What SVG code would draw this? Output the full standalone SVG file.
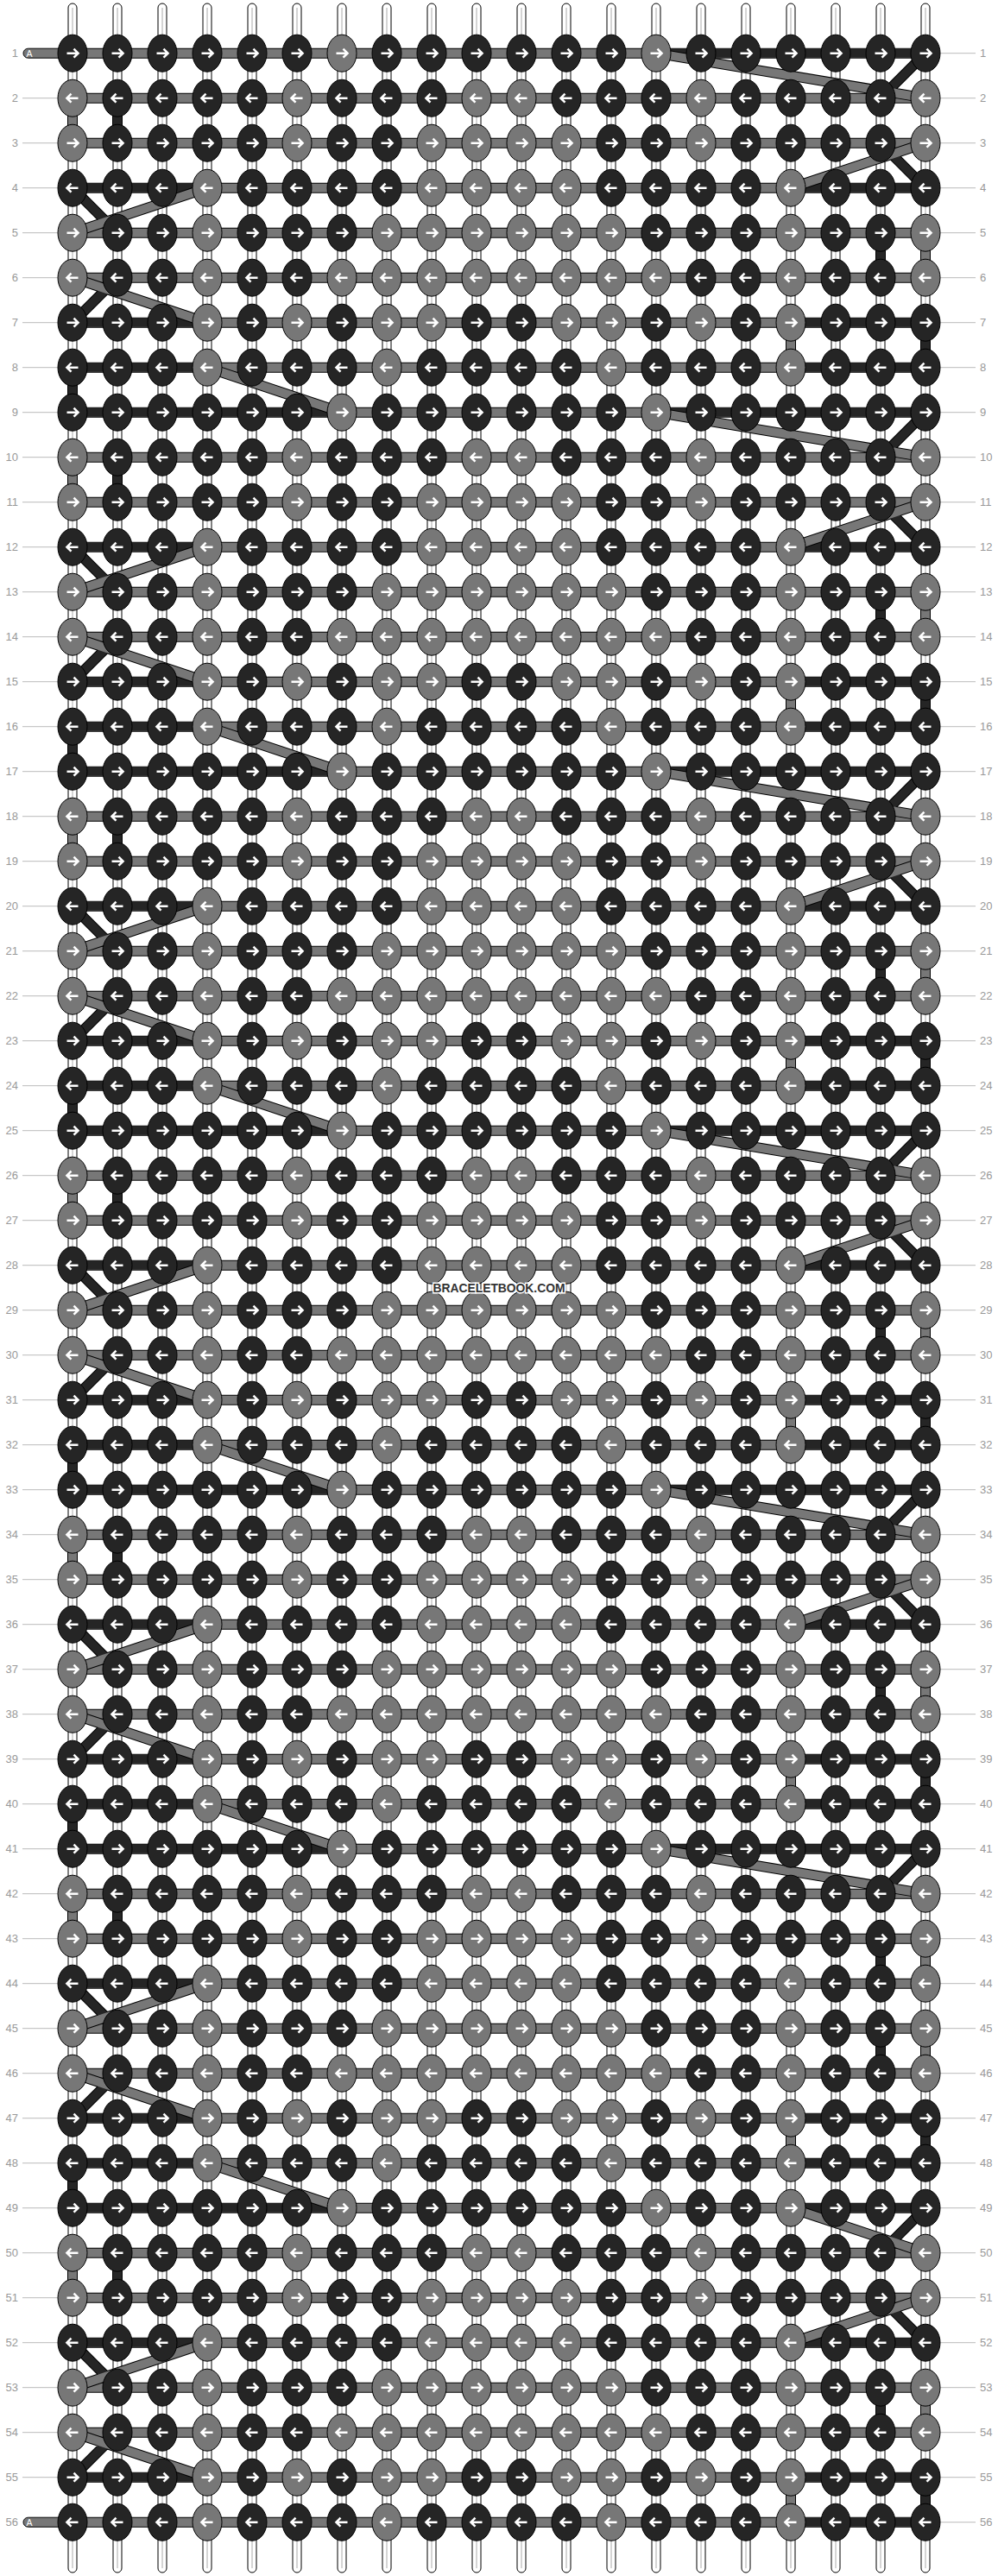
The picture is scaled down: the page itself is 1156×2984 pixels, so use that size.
<svg xmlns="http://www.w3.org/2000/svg" width="1156" height="2984" viewBox="0 0 1156 2984">
<style>
.vs{fill:#fff;stroke:#000;stroke-width:1}
.vi{stroke:#aaa;stroke-width:1;fill:none}
.o{fill:none;stroke:#000;stroke-width:12}
.cg{fill:none;stroke:#777;stroke-width:10}
.cd{fill:none;stroke:#252525;stroke-width:10}
.g{fill:#777}
.lb{font-family:"Liberation Sans",Arial,sans-serif;font-size:13px;fill:#999}
.ln{stroke:#bbb;stroke-width:1;fill:none}
.stub{fill:#777;stroke:#000;stroke-width:1}
.a{font-family:"Liberation Sans",Arial,sans-serif;font-size:10.5px;fill:#fff}
</style>
<defs>
<g id="R"><ellipse rx="17" ry="21.5" stroke="#000" stroke-width="1"/><path d="M-6.5 0H6M1.5-5L6.5 0L1.5 5" fill="none" stroke="#fff" stroke-width="2.6"/></g>
<g id="L"><ellipse rx="17" ry="21.5" stroke="#000" stroke-width="1"/><path d="M6.5 0H-6M-1.5-5L-6.5 0L-1.5 5" fill="none" stroke="#fff" stroke-width="2.6"/></g>
</defs>
<rect width="1156" height="2984" fill="#fff"/>
<g id="connectors">
<g id="strings">
<rect class="vs" x="79" y="4" width="10" height="2976" rx="5"/><rect class="vs" x="131" y="4" width="10" height="2976" rx="5"/><rect class="vs" x="183" y="4" width="10" height="2976" rx="5"/><rect class="vs" x="235" y="4" width="10" height="2976" rx="5"/><rect class="vs" x="287" y="4" width="10" height="2976" rx="5"/><rect class="vs" x="339" y="4" width="10" height="2976" rx="5"/><rect class="vs" x="391" y="4" width="10" height="2976" rx="5"/><rect class="vs" x="443" y="4" width="10" height="2976" rx="5"/><rect class="vs" x="495" y="4" width="10" height="2976" rx="5"/><rect class="vs" x="547" y="4" width="10" height="2976" rx="5"/><rect class="vs" x="599" y="4" width="10" height="2976" rx="5"/><rect class="vs" x="651" y="4" width="10" height="2976" rx="5"/><rect class="vs" x="703" y="4" width="10" height="2976" rx="5"/><rect class="vs" x="755" y="4" width="10" height="2976" rx="5"/><rect class="vs" x="807" y="4" width="10" height="2976" rx="5"/><rect class="vs" x="859" y="4" width="10" height="2976" rx="5"/><rect class="vs" x="911" y="4" width="10" height="2976" rx="5"/><rect class="vs" x="963" y="4" width="10" height="2976" rx="5"/><rect class="vs" x="1015" y="4" width="10" height="2976" rx="5"/><rect class="vs" x="1067" y="4" width="10" height="2976" rx="5"/>
<path class="vi" d="M84 9V2975M136 9V2975M188 9V2975M240 9V2975M292 9V2975M344 9V2975M396 9V2975M448 9V2975M500 9V2975M552 9V2975M604 9V2975M656 9V2975M708 9V2975M760 9V2975M812 9V2975M864 9V2975M916 9V2975M968 9V2975M1020 9V2975M1072 9V2975"/>
</g>
<g id="rowlinks">
<path class="o" d="M84 61.7H1072M84 113.7H1072M84 165.7H1072M84 217.7H1072M84 269.7H1072M84 321.7H1072M84 373.7H1072M84 425.7H1072M84 477.7H1072M84 529.7H1072M84 581.7H1072M84 633.7H1072M84 685.7H1072M84 737.7H1072M84 789.7H1072M84 841.7H1072M84 893.7H1072M84 945.7H1072M84 997.7H1072M84 1049.7H1072M84 1101.7H1072M84 1153.7H1072M84 1205.7H1072M84 1257.7H1072M84 1309.7H1072M84 1361.7H1072M84 1413.7H1072M84 1465.7H1072M84 1517.7H1072M84 1569.7H1072M84 1621.7H1072M84 1673.7H1072M84 1725.7H1072M84 1777.7H1072M84 1829.7H1072M84 1881.7H1072M84 1933.7H1072M84 1985.7H1072M84 2037.7H1072M84 2089.7H1072M84 2141.7H1072M84 2193.7H1072M84 2245.7H1072M84 2297.7H1072M84 2349.7H1072M84 2401.7H1072M84 2453.7H1072M84 2505.7H1072M84 2557.7H1072M84 2609.7H1072M84 2661.7H1072M84 2713.7H1072M84 2765.7H1072M84 2817.7H1072M84 2869.7H1072M84 2921.7H1072"/>
<path class="cg" d="M84 61.7H1072M84 113.7H1072M84 165.7H1072M84 217.7H1072M84 269.7H1072M84 321.7H1072M84 373.7H1072M84 425.7H1072M84 477.7H1072M84 529.7H1072M84 581.7H1072M84 633.7H1072M84 685.7H1072M84 737.7H1072M84 789.7H1072M84 841.7H1072M84 893.7H1072M84 945.7H1072M84 997.7H1072M84 1049.7H1072M84 1101.7H1072M84 1153.7H1072M84 1205.7H1072M84 1257.7H1072M84 1309.7H1072M84 1361.7H1072M84 1413.7H1072M84 1465.7H1072M84 1517.7H1072M84 1569.7H1072M84 1621.7H1072M84 1673.7H1072M84 1725.7H1072M84 1777.7H1072M84 1829.7H1072M84 1881.7H1072M84 1933.7H1072M84 1985.7H1072M84 2037.7H1072M84 2089.7H1072M84 2141.7H1072M84 2193.7H1072M84 2245.7H1072M84 2297.7H1072M84 2349.7H1072M84 2401.7H1072M84 2453.7H1072M84 2505.7H1072M84 2557.7H1072M84 2609.7H1072M84 2661.7H1072M84 2713.7H1072M84 2765.7H1072M84 2817.7H1072M84 2869.7H1072M84 2921.7H1072"/>
<path class="cd" d="M760 61.7H1072M84 217.7H240M916 217.7H1072M84 373.7H240M916 373.7H1072M84 425.7H240M916 425.7H1072M84 477.7H396M760 477.7H1072M84 633.7H240M916 633.7H1072M84 789.7H240M916 789.7H1072M84 841.7H240M916 841.7H1072M84 893.7H396M760 893.7H1072M84 1049.7H240M916 1049.7H1072M84 1205.7H240M916 1205.7H1072M84 1257.7H240M916 1257.7H1072M84 1309.7H396M760 1309.7H1072M84 1465.7H240M916 1465.7H1072M84 1621.7H240M916 1621.7H1072M84 1673.7H240M916 1673.7H1072M84 1725.7H396M760 1725.7H1072M84 1881.7H240M916 1881.7H1072M84 2037.7H240M916 2037.7H1072M84 2089.7H240M916 2089.7H1072M84 2141.7H396M760 2141.7H1072M84 2297.7H240M84 2453.7H240M916 2453.7H1072M84 2505.7H240M916 2505.7H1072M84 2557.7H396M916 2557.7H1072M84 2713.7H240M916 2713.7H1072M84 2869.7H240M916 2869.7H1072M916 2921.7H1072"/>
<rect class="stub" x="27" y="56.2" width="62" height="11" rx="5.5"/>
<rect class="stub" x="27" y="2916.2" width="62" height="11" rx="5.5"/>
<text class="a" x="30.5" y="65.5">A</text>
<text class="a" x="30.5" y="2925.5">A</text>
</g>
<g id="colorlinks">
<path class="o" d="M84 113.7V165.7M1072 269.7V321.7M916 373.7V425.7M136 113.7V165.7M1020 269.7V321.7M1072 373.7V425.7M84 425.7V477.7M84 529.7V581.7M1072 685.7V737.7M916 789.7V841.7M136 529.7V581.7M1020 685.7V737.7M1072 789.7V841.7M84 841.7V893.7M84 945.7V997.7M1072 1101.7V1153.7M916 1205.7V1257.7M136 945.7V997.7M1020 1101.7V1153.7M1072 1205.7V1257.7M84 1257.7V1309.7M84 1361.7V1413.7M1072 1517.7V1569.7M916 1621.7V1673.7M136 1361.7V1413.7M1020 1517.7V1569.7M1072 1621.7V1673.7M84 1673.7V1725.7M84 1777.7V1829.7M1072 1933.7V1985.7M916 2037.7V2089.7M136 1777.7V1829.7M1020 1933.7V1985.7M1072 2037.7V2089.7M84 2089.7V2141.7M84 2193.7V2245.7M1072 2349.7V2401.7M916 2453.7V2505.7M136 2193.7V2245.7M1020 2349.7V2401.7M1072 2453.7V2505.7M84 2505.7V2557.7M1072 2245.7V2297.7M1020 2245.7V2297.7M84 2609.7V2661.7M1072 2765.7V2817.7M916 2869.7V2921.7M136 2609.7V2661.7M1020 2765.7V2817.7M1072 2869.7V2921.7"/>
<path class="cg" d="M84 113.7V165.7M1072 269.7V321.7M916 373.7V425.7M84 529.7V581.7M1072 685.7V737.7M916 789.7V841.7M84 945.7V997.7M1072 1101.7V1153.7M916 1205.7V1257.7M84 1361.7V1413.7M1072 1517.7V1569.7M916 1621.7V1673.7M84 1777.7V1829.7M1072 1933.7V1985.7M916 2037.7V2089.7M84 2193.7V2245.7M1072 2349.7V2401.7M916 2453.7V2505.7M1072 2245.7V2297.7M84 2609.7V2661.7M1072 2765.7V2817.7M916 2869.7V2921.7"/>
<path class="cd" d="M136 113.7V165.7M1020 269.7V321.7M1072 373.7V425.7M84 425.7V477.7M136 529.7V581.7M1020 685.7V737.7M1072 789.7V841.7M84 841.7V893.7M136 945.7V997.7M1020 1101.7V1153.7M1072 1205.7V1257.7M84 1257.7V1309.7M136 1361.7V1413.7M1020 1517.7V1569.7M1072 1621.7V1673.7M84 1673.7V1725.7M136 1777.7V1829.7M1020 1933.7V1985.7M1072 2037.7V2089.7M84 2089.7V2141.7M136 2193.7V2245.7M1020 2349.7V2401.7M1072 2453.7V2505.7M84 2505.7V2557.7M1020 2245.7V2297.7M136 2609.7V2661.7M1020 2765.7V2817.7M1072 2869.7V2921.7"/>
</g>
<g id="diagonals">
<path class="o" d="M760 61.7L1072 113.7M1072 165.7L916 217.7M240 217.7L84 269.7M84 321.7L240 373.7M240 425.7L396 477.7M760 477.7L1072 529.7M1072 581.7L916 633.7M240 633.7L84 685.7M84 737.7L240 789.7M240 841.7L396 893.7M760 893.7L1072 945.7M1072 997.7L916 1049.7M240 1049.7L84 1101.7M84 1153.7L240 1205.7M240 1257.7L396 1309.7M760 1309.7L1072 1361.7M1072 1413.7L916 1465.7M240 1465.7L84 1517.7M84 1569.7L240 1621.7M240 1673.7L396 1725.7M760 1725.7L1072 1777.7M1072 1829.7L916 1881.7M240 1881.7L84 1933.7M84 1985.7L240 2037.7M240 2089.7L396 2141.7M760 2141.7L1072 2193.7M240 2297.7L84 2349.7M84 2401.7L240 2453.7M240 2505.7L396 2557.7M916 2557.7L1072 2609.7M1072 2661.7L916 2713.7M240 2713.7L84 2765.7M84 2817.7L240 2869.7M1072 61.7L1020 113.7M1020 165.7L1072 217.7M84 217.7L136 269.7M136 321.7L84 373.7M1072 477.7L1020 529.7M1020 581.7L1072 633.7M84 633.7L136 685.7M136 737.7L84 789.7M1072 893.7L1020 945.7M1020 997.7L1072 1049.7M84 1049.7L136 1101.7M136 1153.7L84 1205.7M1072 1309.7L1020 1361.7M1020 1413.7L1072 1465.7M84 1465.7L136 1517.7M136 1569.7L84 1621.7M1072 1725.7L1020 1777.7M1020 1829.7L1072 1881.7M84 1881.7L136 1933.7M136 1985.7L84 2037.7M1072 2141.7L1020 2193.7M84 2297.7L136 2349.7M136 2401.7L84 2453.7M1072 2557.7L1020 2609.7M1020 2661.7L1072 2713.7M84 2713.7L136 2765.7M136 2817.7L84 2869.7"/>
<path class="cd" d="M1072 61.7L1020 113.7M1020 165.7L1072 217.7M84 217.7L136 269.7M136 321.7L84 373.7M1072 477.7L1020 529.7M1020 581.7L1072 633.7M84 633.7L136 685.7M136 737.7L84 789.7M1072 893.7L1020 945.7M1020 997.7L1072 1049.7M84 1049.7L136 1101.7M136 1153.7L84 1205.7M1072 1309.7L1020 1361.7M1020 1413.7L1072 1465.7M84 1465.7L136 1517.7M136 1569.7L84 1621.7M1072 1725.7L1020 1777.7M1020 1829.7L1072 1881.7M84 1881.7L136 1933.7M136 1985.7L84 2037.7M1072 2141.7L1020 2193.7M84 2297.7L136 2349.7M136 2401.7L84 2453.7M1072 2557.7L1020 2609.7M1020 2661.7L1072 2713.7M84 2713.7L136 2765.7M136 2817.7L84 2869.7"/>
<path class="cg" d="M760 61.7L1072 113.7M1072 165.7L916 217.7M240 217.7L84 269.7M84 321.7L240 373.7M240 425.7L396 477.7M760 477.7L1072 529.7M1072 581.7L916 633.7M240 633.7L84 685.7M84 737.7L240 789.7M240 841.7L396 893.7M760 893.7L1072 945.7M1072 997.7L916 1049.7M240 1049.7L84 1101.7M84 1153.7L240 1205.7M240 1257.7L396 1309.7M760 1309.7L1072 1361.7M1072 1413.7L916 1465.7M240 1465.7L84 1517.7M84 1569.7L240 1621.7M240 1673.7L396 1725.7M760 1725.7L1072 1777.7M1072 1829.7L916 1881.7M240 1881.7L84 1933.7M84 1985.7L240 2037.7M240 2089.7L396 2141.7M760 2141.7L1072 2193.7M240 2297.7L84 2349.7M84 2401.7L240 2453.7M240 2505.7L396 2557.7M916 2557.7L1072 2609.7M1072 2661.7L916 2713.7M240 2713.7L84 2765.7M84 2817.7L240 2869.7"/>
</g>
</g>
<g id="labels">
<path class="ln" d="M26 113.7H67M26 165.7H67M26 217.7H67M26 269.7H67M26 321.7H67M26 373.7H67M26 425.7H67M26 477.7H67M26 529.7H67M26 581.7H67M26 633.7H67M26 685.7H67M26 737.7H67M26 789.7H67M26 841.7H67M26 893.7H67M26 945.7H67M26 997.7H67M26 1049.7H67M26 1101.7H67M26 1153.7H67M26 1205.7H67M26 1257.7H67M26 1309.7H67M26 1361.7H67M26 1413.7H67M26 1465.7H67M26 1517.7H67M26 1569.7H67M26 1621.7H67M26 1673.7H67M26 1725.7H67M26 1777.7H67M26 1829.7H67M26 1881.7H67M26 1933.7H67M26 1985.7H67M26 2037.7H67M26 2089.7H67M26 2141.7H67M26 2193.7H67M26 2245.7H67M26 2297.7H67M26 2349.7H67M26 2401.7H67M26 2453.7H67M26 2505.7H67M26 2557.7H67M26 2609.7H67M26 2661.7H67M26 2713.7H67M26 2765.7H67M26 2817.7H67M26 2869.7H67"/>
<path class="ln" d="M1089 61.7H1130M1089 113.7H1130M1089 165.7H1130M1089 217.7H1130M1089 269.7H1130M1089 321.7H1130M1089 373.7H1130M1089 425.7H1130M1089 477.7H1130M1089 529.7H1130M1089 581.7H1130M1089 633.7H1130M1089 685.7H1130M1089 737.7H1130M1089 789.7H1130M1089 841.7H1130M1089 893.7H1130M1089 945.7H1130M1089 997.7H1130M1089 1049.7H1130M1089 1101.7H1130M1089 1153.7H1130M1089 1205.7H1130M1089 1257.7H1130M1089 1309.7H1130M1089 1361.7H1130M1089 1413.7H1130M1089 1465.7H1130M1089 1517.7H1130M1089 1569.7H1130M1089 1621.7H1130M1089 1673.7H1130M1089 1725.7H1130M1089 1777.7H1130M1089 1829.7H1130M1089 1881.7H1130M1089 1933.7H1130M1089 1985.7H1130M1089 2037.7H1130M1089 2089.7H1130M1089 2141.7H1130M1089 2193.7H1130M1089 2245.7H1130M1089 2297.7H1130M1089 2349.7H1130M1089 2401.7H1130M1089 2453.7H1130M1089 2505.7H1130M1089 2557.7H1130M1089 2609.7H1130M1089 2661.7H1130M1089 2713.7H1130M1089 2765.7H1130M1089 2817.7H1130M1089 2869.7H1130M1089 2921.7H1130"/>
<g class="lb" text-anchor="end">
<text x="21" y="66.4">1</text><text x="21" y="118.4">2</text><text x="21" y="170.4">3</text><text x="21" y="222.4">4</text><text x="21" y="274.4">5</text><text x="21" y="326.4">6</text><text x="21" y="378.4">7</text><text x="21" y="430.4">8</text><text x="21" y="482.4">9</text><text x="21" y="534.4">10</text><text x="21" y="586.4">11</text><text x="21" y="638.4">12</text><text x="21" y="690.4">13</text><text x="21" y="742.4">14</text><text x="21" y="794.4">15</text><text x="21" y="846.4">16</text><text x="21" y="898.4">17</text><text x="21" y="950.4">18</text><text x="21" y="1002.4">19</text><text x="21" y="1054.4">20</text><text x="21" y="1106.4">21</text><text x="21" y="1158.4">22</text><text x="21" y="1210.4">23</text><text x="21" y="1262.4">24</text><text x="21" y="1314.4">25</text><text x="21" y="1366.4">26</text><text x="21" y="1418.4">27</text><text x="21" y="1470.4">28</text><text x="21" y="1522.4">29</text><text x="21" y="1574.4">30</text><text x="21" y="1626.4">31</text><text x="21" y="1678.4">32</text><text x="21" y="1730.4">33</text><text x="21" y="1782.4">34</text><text x="21" y="1834.4">35</text><text x="21" y="1886.4">36</text><text x="21" y="1938.4">37</text><text x="21" y="1990.4">38</text><text x="21" y="2042.4">39</text><text x="21" y="2094.4">40</text><text x="21" y="2146.4">41</text><text x="21" y="2198.4">42</text><text x="21" y="2250.4">43</text><text x="21" y="2302.4">44</text><text x="21" y="2354.4">45</text><text x="21" y="2406.4">46</text><text x="21" y="2458.4">47</text><text x="21" y="2510.4">48</text><text x="21" y="2562.4">49</text><text x="21" y="2614.4">50</text><text x="21" y="2666.4">51</text><text x="21" y="2718.4">52</text><text x="21" y="2770.4">53</text><text x="21" y="2822.4">54</text><text x="21" y="2874.4">55</text><text x="21" y="2926.4">56</text>
</g>
<g class="lb">
<text x="1135" y="66.4">1</text><text x="1135" y="118.4">2</text><text x="1135" y="170.4">3</text><text x="1135" y="222.4">4</text><text x="1135" y="274.4">5</text><text x="1135" y="326.4">6</text><text x="1135" y="378.4">7</text><text x="1135" y="430.4">8</text><text x="1135" y="482.4">9</text><text x="1135" y="534.4">10</text><text x="1135" y="586.4">11</text><text x="1135" y="638.4">12</text><text x="1135" y="690.4">13</text><text x="1135" y="742.4">14</text><text x="1135" y="794.4">15</text><text x="1135" y="846.4">16</text><text x="1135" y="898.4">17</text><text x="1135" y="950.4">18</text><text x="1135" y="1002.4">19</text><text x="1135" y="1054.4">20</text><text x="1135" y="1106.4">21</text><text x="1135" y="1158.4">22</text><text x="1135" y="1210.4">23</text><text x="1135" y="1262.4">24</text><text x="1135" y="1314.4">25</text><text x="1135" y="1366.4">26</text><text x="1135" y="1418.4">27</text><text x="1135" y="1470.4">28</text><text x="1135" y="1522.4">29</text><text x="1135" y="1574.4">30</text><text x="1135" y="1626.4">31</text><text x="1135" y="1678.4">32</text><text x="1135" y="1730.4">33</text><text x="1135" y="1782.4">34</text><text x="1135" y="1834.4">35</text><text x="1135" y="1886.4">36</text><text x="1135" y="1938.4">37</text><text x="1135" y="1990.4">38</text><text x="1135" y="2042.4">39</text><text x="1135" y="2094.4">40</text><text x="1135" y="2146.4">41</text><text x="1135" y="2198.4">42</text><text x="1135" y="2250.4">43</text><text x="1135" y="2302.4">44</text><text x="1135" y="2354.4">45</text><text x="1135" y="2406.4">46</text><text x="1135" y="2458.4">47</text><text x="1135" y="2510.4">48</text><text x="1135" y="2562.4">49</text><text x="1135" y="2614.4">50</text><text x="1135" y="2666.4">51</text><text x="1135" y="2718.4">52</text><text x="1135" y="2770.4">53</text><text x="1135" y="2822.4">54</text><text x="1135" y="2874.4">55</text><text x="1135" y="2926.4">56</text>
</g>
</g>
<g id="nodes" fill="#252525">
<g transform="translate(0,61.7)"><g id="k1-1"><use href="#R" x="84"/></g><g id="k1-2"><use href="#R" x="136"/></g><g id="k1-3"><use href="#R" x="188"/></g><g id="k1-4"><use href="#R" x="240"/></g><g id="k1-5"><use href="#R" x="292"/></g><g id="k1-6"><use href="#R" x="344"/></g><g id="k1-7"><use href="#R" x="396" class="g"/></g><g id="k1-8"><use href="#R" x="448"/></g><g id="k1-9"><use href="#R" x="500"/></g><g id="k1-10"><use href="#R" x="552"/></g><g id="k1-11"><use href="#R" x="604"/></g><g id="k1-12"><use href="#R" x="656"/></g><g id="k1-13"><use href="#R" x="708"/></g><g id="k1-14"><use href="#R" x="760" class="g"/></g><g id="k1-15"><use href="#R" x="812"/></g><g id="k1-16"><use href="#R" x="864"/></g><g id="k1-17"><use href="#R" x="916"/></g><g id="k1-18"><use href="#R" x="968"/></g><g id="k1-19"><use href="#R" x="1020"/></g><g id="k1-20"><use href="#R" x="1072"/></g></g>
<g transform="translate(0,113.7)"><g id="k2-1"><use href="#L" x="84" class="g"/></g><g id="k2-2"><use href="#L" x="136"/></g><g id="k2-3"><use href="#L" x="188"/></g><g id="k2-4"><use href="#L" x="240"/></g><g id="k2-5"><use href="#L" x="292"/></g><g id="k2-6"><use href="#L" x="344" class="g"/></g><g id="k2-7"><use href="#L" x="396"/></g><g id="k2-8"><use href="#L" x="448"/></g><g id="k2-9"><use href="#L" x="500"/></g><g id="k2-10"><use href="#L" x="552" class="g"/></g><g id="k2-11"><use href="#L" x="604" class="g"/></g><g id="k2-12"><use href="#L" x="656"/></g><g id="k2-13"><use href="#L" x="708"/></g><g id="k2-14"><use href="#L" x="760"/></g><g id="k2-15"><use href="#L" x="812" class="g"/></g><g id="k2-16"><use href="#L" x="864"/></g><g id="k2-17"><use href="#L" x="916"/></g><g id="k2-18"><use href="#L" x="968"/></g><g id="k2-19"><use href="#L" x="1020"/></g><g id="k2-20"><use href="#L" x="1072" class="g"/></g></g>
<g transform="translate(0,165.7)"><g id="k3-1"><use href="#R" x="84" class="g"/></g><g id="k3-2"><use href="#R" x="136"/></g><g id="k3-3"><use href="#R" x="188"/></g><g id="k3-4"><use href="#R" x="240"/></g><g id="k3-5"><use href="#R" x="292"/></g><g id="k3-6"><use href="#R" x="344" class="g"/></g><g id="k3-7"><use href="#R" x="396"/></g><g id="k3-8"><use href="#R" x="448"/></g><g id="k3-9"><use href="#R" x="500" class="g"/></g><g id="k3-10"><use href="#R" x="552" class="g"/></g><g id="k3-11"><use href="#R" x="604" class="g"/></g><g id="k3-12"><use href="#R" x="656" class="g"/></g><g id="k3-13"><use href="#R" x="708"/></g><g id="k3-14"><use href="#R" x="760"/></g><g id="k3-15"><use href="#R" x="812" class="g"/></g><g id="k3-16"><use href="#R" x="864"/></g><g id="k3-17"><use href="#R" x="916"/></g><g id="k3-18"><use href="#R" x="968"/></g><g id="k3-19"><use href="#R" x="1020"/></g><g id="k3-20"><use href="#R" x="1072" class="g"/></g></g>
<g transform="translate(0,217.7)"><g id="k4-1"><use href="#L" x="84"/></g><g id="k4-2"><use href="#L" x="136"/></g><g id="k4-3"><use href="#L" x="188"/></g><g id="k4-4"><use href="#L" x="240" class="g"/></g><g id="k4-5"><use href="#L" x="292"/></g><g id="k4-6"><use href="#L" x="344"/></g><g id="k4-7"><use href="#L" x="396"/></g><g id="k4-8"><use href="#L" x="448"/></g><g id="k4-9"><use href="#L" x="500" class="g"/></g><g id="k4-10"><use href="#L" x="552" class="g"/></g><g id="k4-11"><use href="#L" x="604" class="g"/></g><g id="k4-12"><use href="#L" x="656" class="g"/></g><g id="k4-13"><use href="#L" x="708"/></g><g id="k4-14"><use href="#L" x="760"/></g><g id="k4-15"><use href="#L" x="812"/></g><g id="k4-16"><use href="#L" x="864"/></g><g id="k4-17"><use href="#L" x="916" class="g"/></g><g id="k4-18"><use href="#L" x="968"/></g><g id="k4-19"><use href="#L" x="1020"/></g><g id="k4-20"><use href="#L" x="1072"/></g></g>
<g transform="translate(0,269.7)"><g id="k5-1"><use href="#R" x="84" class="g"/></g><g id="k5-2"><use href="#R" x="136"/></g><g id="k5-3"><use href="#R" x="188"/></g><g id="k5-4"><use href="#R" x="240" class="g"/></g><g id="k5-5"><use href="#R" x="292"/></g><g id="k5-6"><use href="#R" x="344"/></g><g id="k5-7"><use href="#R" x="396"/></g><g id="k5-8"><use href="#R" x="448" class="g"/></g><g id="k5-9"><use href="#R" x="500" class="g"/></g><g id="k5-10"><use href="#R" x="552" class="g"/></g><g id="k5-11"><use href="#R" x="604" class="g"/></g><g id="k5-12"><use href="#R" x="656" class="g"/></g><g id="k5-13"><use href="#R" x="708" class="g"/></g><g id="k5-14"><use href="#R" x="760"/></g><g id="k5-15"><use href="#R" x="812"/></g><g id="k5-16"><use href="#R" x="864"/></g><g id="k5-17"><use href="#R" x="916" class="g"/></g><g id="k5-18"><use href="#R" x="968"/></g><g id="k5-19"><use href="#R" x="1020"/></g><g id="k5-20"><use href="#R" x="1072" class="g"/></g></g>
<g transform="translate(0,321.7)"><g id="k6-1"><use href="#L" x="84" class="g"/></g><g id="k6-2"><use href="#L" x="136"/></g><g id="k6-3"><use href="#L" x="188"/></g><g id="k6-4"><use href="#L" x="240" class="g"/></g><g id="k6-5"><use href="#L" x="292"/></g><g id="k6-6"><use href="#L" x="344"/></g><g id="k6-7"><use href="#L" x="396" class="g"/></g><g id="k6-8"><use href="#L" x="448" class="g"/></g><g id="k6-9"><use href="#L" x="500" class="g"/></g><g id="k6-10"><use href="#L" x="552" class="g"/></g><g id="k6-11"><use href="#L" x="604" class="g"/></g><g id="k6-12"><use href="#L" x="656" class="g"/></g><g id="k6-13"><use href="#L" x="708" class="g"/></g><g id="k6-14"><use href="#L" x="760" class="g"/></g><g id="k6-15"><use href="#L" x="812"/></g><g id="k6-16"><use href="#L" x="864"/></g><g id="k6-17"><use href="#L" x="916" class="g"/></g><g id="k6-18"><use href="#L" x="968"/></g><g id="k6-19"><use href="#L" x="1020"/></g><g id="k6-20"><use href="#L" x="1072" class="g"/></g></g>
<g transform="translate(0,373.7)"><g id="k7-1"><use href="#R" x="84"/></g><g id="k7-2"><use href="#R" x="136"/></g><g id="k7-3"><use href="#R" x="188"/></g><g id="k7-4"><use href="#R" x="240" class="g"/></g><g id="k7-5"><use href="#R" x="292"/></g><g id="k7-6"><use href="#R" x="344" class="g"/></g><g id="k7-7"><use href="#R" x="396"/></g><g id="k7-8"><use href="#R" x="448" class="g"/></g><g id="k7-9"><use href="#R" x="500" class="g"/></g><g id="k7-10"><use href="#R" x="552"/></g><g id="k7-11"><use href="#R" x="604"/></g><g id="k7-12"><use href="#R" x="656" class="g"/></g><g id="k7-13"><use href="#R" x="708" class="g"/></g><g id="k7-14"><use href="#R" x="760"/></g><g id="k7-15"><use href="#R" x="812" class="g"/></g><g id="k7-16"><use href="#R" x="864"/></g><g id="k7-17"><use href="#R" x="916" class="g"/></g><g id="k7-18"><use href="#R" x="968"/></g><g id="k7-19"><use href="#R" x="1020"/></g><g id="k7-20"><use href="#R" x="1072"/></g></g>
<g transform="translate(0,425.7)"><g id="k8-1"><use href="#L" x="84"/></g><g id="k8-2"><use href="#L" x="136"/></g><g id="k8-3"><use href="#L" x="188"/></g><g id="k8-4"><use href="#L" x="240" class="g"/></g><g id="k8-5"><use href="#L" x="292"/></g><g id="k8-6"><use href="#L" x="344"/></g><g id="k8-7"><use href="#L" x="396"/></g><g id="k8-8"><use href="#L" x="448" class="g"/></g><g id="k8-9"><use href="#L" x="500"/></g><g id="k8-10"><use href="#L" x="552"/></g><g id="k8-11"><use href="#L" x="604"/></g><g id="k8-12"><use href="#L" x="656"/></g><g id="k8-13"><use href="#L" x="708" class="g"/></g><g id="k8-14"><use href="#L" x="760"/></g><g id="k8-15"><use href="#L" x="812"/></g><g id="k8-16"><use href="#L" x="864"/></g><g id="k8-17"><use href="#L" x="916" class="g"/></g><g id="k8-18"><use href="#L" x="968"/></g><g id="k8-19"><use href="#L" x="1020"/></g><g id="k8-20"><use href="#L" x="1072"/></g></g>
<g transform="translate(0,477.7)"><g id="k9-1"><use href="#R" x="84"/></g><g id="k9-2"><use href="#R" x="136"/></g><g id="k9-3"><use href="#R" x="188"/></g><g id="k9-4"><use href="#R" x="240"/></g><g id="k9-5"><use href="#R" x="292"/></g><g id="k9-6"><use href="#R" x="344"/></g><g id="k9-7"><use href="#R" x="396" class="g"/></g><g id="k9-8"><use href="#R" x="448"/></g><g id="k9-9"><use href="#R" x="500"/></g><g id="k9-10"><use href="#R" x="552"/></g><g id="k9-11"><use href="#R" x="604"/></g><g id="k9-12"><use href="#R" x="656"/></g><g id="k9-13"><use href="#R" x="708"/></g><g id="k9-14"><use href="#R" x="760" class="g"/></g><g id="k9-15"><use href="#R" x="812"/></g><g id="k9-16"><use href="#R" x="864"/></g><g id="k9-17"><use href="#R" x="916"/></g><g id="k9-18"><use href="#R" x="968"/></g><g id="k9-19"><use href="#R" x="1020"/></g><g id="k9-20"><use href="#R" x="1072"/></g></g>
<g transform="translate(0,529.7)"><g id="k10-1"><use href="#L" x="84" class="g"/></g><g id="k10-2"><use href="#L" x="136"/></g><g id="k10-3"><use href="#L" x="188"/></g><g id="k10-4"><use href="#L" x="240"/></g><g id="k10-5"><use href="#L" x="292"/></g><g id="k10-6"><use href="#L" x="344" class="g"/></g><g id="k10-7"><use href="#L" x="396"/></g><g id="k10-8"><use href="#L" x="448"/></g><g id="k10-9"><use href="#L" x="500"/></g><g id="k10-10"><use href="#L" x="552" class="g"/></g><g id="k10-11"><use href="#L" x="604" class="g"/></g><g id="k10-12"><use href="#L" x="656"/></g><g id="k10-13"><use href="#L" x="708"/></g><g id="k10-14"><use href="#L" x="760"/></g><g id="k10-15"><use href="#L" x="812" class="g"/></g><g id="k10-16"><use href="#L" x="864"/></g><g id="k10-17"><use href="#L" x="916"/></g><g id="k10-18"><use href="#L" x="968"/></g><g id="k10-19"><use href="#L" x="1020"/></g><g id="k10-20"><use href="#L" x="1072" class="g"/></g></g>
<g transform="translate(0,581.7)"><g id="k11-1"><use href="#R" x="84" class="g"/></g><g id="k11-2"><use href="#R" x="136"/></g><g id="k11-3"><use href="#R" x="188"/></g><g id="k11-4"><use href="#R" x="240"/></g><g id="k11-5"><use href="#R" x="292"/></g><g id="k11-6"><use href="#R" x="344" class="g"/></g><g id="k11-7"><use href="#R" x="396"/></g><g id="k11-8"><use href="#R" x="448"/></g><g id="k11-9"><use href="#R" x="500" class="g"/></g><g id="k11-10"><use href="#R" x="552" class="g"/></g><g id="k11-11"><use href="#R" x="604" class="g"/></g><g id="k11-12"><use href="#R" x="656" class="g"/></g><g id="k11-13"><use href="#R" x="708"/></g><g id="k11-14"><use href="#R" x="760"/></g><g id="k11-15"><use href="#R" x="812" class="g"/></g><g id="k11-16"><use href="#R" x="864"/></g><g id="k11-17"><use href="#R" x="916"/></g><g id="k11-18"><use href="#R" x="968"/></g><g id="k11-19"><use href="#R" x="1020"/></g><g id="k11-20"><use href="#R" x="1072" class="g"/></g></g>
<g transform="translate(0,633.7)"><g id="k12-1"><use href="#L" x="84"/></g><g id="k12-2"><use href="#L" x="136"/></g><g id="k12-3"><use href="#L" x="188"/></g><g id="k12-4"><use href="#L" x="240" class="g"/></g><g id="k12-5"><use href="#L" x="292"/></g><g id="k12-6"><use href="#L" x="344"/></g><g id="k12-7"><use href="#L" x="396"/></g><g id="k12-8"><use href="#L" x="448"/></g><g id="k12-9"><use href="#L" x="500" class="g"/></g><g id="k12-10"><use href="#L" x="552" class="g"/></g><g id="k12-11"><use href="#L" x="604" class="g"/></g><g id="k12-12"><use href="#L" x="656" class="g"/></g><g id="k12-13"><use href="#L" x="708"/></g><g id="k12-14"><use href="#L" x="760"/></g><g id="k12-15"><use href="#L" x="812"/></g><g id="k12-16"><use href="#L" x="864"/></g><g id="k12-17"><use href="#L" x="916" class="g"/></g><g id="k12-18"><use href="#L" x="968"/></g><g id="k12-19"><use href="#L" x="1020"/></g><g id="k12-20"><use href="#L" x="1072"/></g></g>
<g transform="translate(0,685.7)"><g id="k13-1"><use href="#R" x="84" class="g"/></g><g id="k13-2"><use href="#R" x="136"/></g><g id="k13-3"><use href="#R" x="188"/></g><g id="k13-4"><use href="#R" x="240" class="g"/></g><g id="k13-5"><use href="#R" x="292"/></g><g id="k13-6"><use href="#R" x="344"/></g><g id="k13-7"><use href="#R" x="396"/></g><g id="k13-8"><use href="#R" x="448" class="g"/></g><g id="k13-9"><use href="#R" x="500" class="g"/></g><g id="k13-10"><use href="#R" x="552" class="g"/></g><g id="k13-11"><use href="#R" x="604" class="g"/></g><g id="k13-12"><use href="#R" x="656" class="g"/></g><g id="k13-13"><use href="#R" x="708" class="g"/></g><g id="k13-14"><use href="#R" x="760"/></g><g id="k13-15"><use href="#R" x="812"/></g><g id="k13-16"><use href="#R" x="864"/></g><g id="k13-17"><use href="#R" x="916" class="g"/></g><g id="k13-18"><use href="#R" x="968"/></g><g id="k13-19"><use href="#R" x="1020"/></g><g id="k13-20"><use href="#R" x="1072" class="g"/></g></g>
<g transform="translate(0,737.7)"><g id="k14-1"><use href="#L" x="84" class="g"/></g><g id="k14-2"><use href="#L" x="136"/></g><g id="k14-3"><use href="#L" x="188"/></g><g id="k14-4"><use href="#L" x="240" class="g"/></g><g id="k14-5"><use href="#L" x="292"/></g><g id="k14-6"><use href="#L" x="344"/></g><g id="k14-7"><use href="#L" x="396" class="g"/></g><g id="k14-8"><use href="#L" x="448" class="g"/></g><g id="k14-9"><use href="#L" x="500" class="g"/></g><g id="k14-10"><use href="#L" x="552" class="g"/></g><g id="k14-11"><use href="#L" x="604" class="g"/></g><g id="k14-12"><use href="#L" x="656" class="g"/></g><g id="k14-13"><use href="#L" x="708" class="g"/></g><g id="k14-14"><use href="#L" x="760" class="g"/></g><g id="k14-15"><use href="#L" x="812"/></g><g id="k14-16"><use href="#L" x="864"/></g><g id="k14-17"><use href="#L" x="916" class="g"/></g><g id="k14-18"><use href="#L" x="968"/></g><g id="k14-19"><use href="#L" x="1020"/></g><g id="k14-20"><use href="#L" x="1072" class="g"/></g></g>
<g transform="translate(0,789.7)"><g id="k15-1"><use href="#R" x="84"/></g><g id="k15-2"><use href="#R" x="136"/></g><g id="k15-3"><use href="#R" x="188"/></g><g id="k15-4"><use href="#R" x="240" class="g"/></g><g id="k15-5"><use href="#R" x="292"/></g><g id="k15-6"><use href="#R" x="344" class="g"/></g><g id="k15-7"><use href="#R" x="396"/></g><g id="k15-8"><use href="#R" x="448" class="g"/></g><g id="k15-9"><use href="#R" x="500" class="g"/></g><g id="k15-10"><use href="#R" x="552"/></g><g id="k15-11"><use href="#R" x="604"/></g><g id="k15-12"><use href="#R" x="656" class="g"/></g><g id="k15-13"><use href="#R" x="708" class="g"/></g><g id="k15-14"><use href="#R" x="760"/></g><g id="k15-15"><use href="#R" x="812" class="g"/></g><g id="k15-16"><use href="#R" x="864"/></g><g id="k15-17"><use href="#R" x="916" class="g"/></g><g id="k15-18"><use href="#R" x="968"/></g><g id="k15-19"><use href="#R" x="1020"/></g><g id="k15-20"><use href="#R" x="1072"/></g></g>
<g transform="translate(0,841.7)"><g id="k16-1"><use href="#L" x="84"/></g><g id="k16-2"><use href="#L" x="136"/></g><g id="k16-3"><use href="#L" x="188"/></g><g id="k16-4"><use href="#L" x="240" class="g"/></g><g id="k16-5"><use href="#L" x="292"/></g><g id="k16-6"><use href="#L" x="344"/></g><g id="k16-7"><use href="#L" x="396"/></g><g id="k16-8"><use href="#L" x="448" class="g"/></g><g id="k16-9"><use href="#L" x="500"/></g><g id="k16-10"><use href="#L" x="552"/></g><g id="k16-11"><use href="#L" x="604"/></g><g id="k16-12"><use href="#L" x="656"/></g><g id="k16-13"><use href="#L" x="708" class="g"/></g><g id="k16-14"><use href="#L" x="760"/></g><g id="k16-15"><use href="#L" x="812"/></g><g id="k16-16"><use href="#L" x="864"/></g><g id="k16-17"><use href="#L" x="916" class="g"/></g><g id="k16-18"><use href="#L" x="968"/></g><g id="k16-19"><use href="#L" x="1020"/></g><g id="k16-20"><use href="#L" x="1072"/></g></g>
<g transform="translate(0,893.7)"><g id="k17-1"><use href="#R" x="84"/></g><g id="k17-2"><use href="#R" x="136"/></g><g id="k17-3"><use href="#R" x="188"/></g><g id="k17-4"><use href="#R" x="240"/></g><g id="k17-5"><use href="#R" x="292"/></g><g id="k17-6"><use href="#R" x="344"/></g><g id="k17-7"><use href="#R" x="396" class="g"/></g><g id="k17-8"><use href="#R" x="448"/></g><g id="k17-9"><use href="#R" x="500"/></g><g id="k17-10"><use href="#R" x="552"/></g><g id="k17-11"><use href="#R" x="604"/></g><g id="k17-12"><use href="#R" x="656"/></g><g id="k17-13"><use href="#R" x="708"/></g><g id="k17-14"><use href="#R" x="760" class="g"/></g><g id="k17-15"><use href="#R" x="812"/></g><g id="k17-16"><use href="#R" x="864"/></g><g id="k17-17"><use href="#R" x="916"/></g><g id="k17-18"><use href="#R" x="968"/></g><g id="k17-19"><use href="#R" x="1020"/></g><g id="k17-20"><use href="#R" x="1072"/></g></g>
<g transform="translate(0,945.7)"><g id="k18-1"><use href="#L" x="84" class="g"/></g><g id="k18-2"><use href="#L" x="136"/></g><g id="k18-3"><use href="#L" x="188"/></g><g id="k18-4"><use href="#L" x="240"/></g><g id="k18-5"><use href="#L" x="292"/></g><g id="k18-6"><use href="#L" x="344" class="g"/></g><g id="k18-7"><use href="#L" x="396"/></g><g id="k18-8"><use href="#L" x="448"/></g><g id="k18-9"><use href="#L" x="500"/></g><g id="k18-10"><use href="#L" x="552" class="g"/></g><g id="k18-11"><use href="#L" x="604" class="g"/></g><g id="k18-12"><use href="#L" x="656"/></g><g id="k18-13"><use href="#L" x="708"/></g><g id="k18-14"><use href="#L" x="760"/></g><g id="k18-15"><use href="#L" x="812" class="g"/></g><g id="k18-16"><use href="#L" x="864"/></g><g id="k18-17"><use href="#L" x="916"/></g><g id="k18-18"><use href="#L" x="968"/></g><g id="k18-19"><use href="#L" x="1020"/></g><g id="k18-20"><use href="#L" x="1072" class="g"/></g></g>
<g transform="translate(0,997.7)"><g id="k19-1"><use href="#R" x="84" class="g"/></g><g id="k19-2"><use href="#R" x="136"/></g><g id="k19-3"><use href="#R" x="188"/></g><g id="k19-4"><use href="#R" x="240"/></g><g id="k19-5"><use href="#R" x="292"/></g><g id="k19-6"><use href="#R" x="344" class="g"/></g><g id="k19-7"><use href="#R" x="396"/></g><g id="k19-8"><use href="#R" x="448"/></g><g id="k19-9"><use href="#R" x="500" class="g"/></g><g id="k19-10"><use href="#R" x="552" class="g"/></g><g id="k19-11"><use href="#R" x="604" class="g"/></g><g id="k19-12"><use href="#R" x="656" class="g"/></g><g id="k19-13"><use href="#R" x="708"/></g><g id="k19-14"><use href="#R" x="760"/></g><g id="k19-15"><use href="#R" x="812" class="g"/></g><g id="k19-16"><use href="#R" x="864"/></g><g id="k19-17"><use href="#R" x="916"/></g><g id="k19-18"><use href="#R" x="968"/></g><g id="k19-19"><use href="#R" x="1020"/></g><g id="k19-20"><use href="#R" x="1072" class="g"/></g></g>
<g transform="translate(0,1049.7)"><g id="k20-1"><use href="#L" x="84"/></g><g id="k20-2"><use href="#L" x="136"/></g><g id="k20-3"><use href="#L" x="188"/></g><g id="k20-4"><use href="#L" x="240" class="g"/></g><g id="k20-5"><use href="#L" x="292"/></g><g id="k20-6"><use href="#L" x="344"/></g><g id="k20-7"><use href="#L" x="396"/></g><g id="k20-8"><use href="#L" x="448"/></g><g id="k20-9"><use href="#L" x="500" class="g"/></g><g id="k20-10"><use href="#L" x="552" class="g"/></g><g id="k20-11"><use href="#L" x="604" class="g"/></g><g id="k20-12"><use href="#L" x="656" class="g"/></g><g id="k20-13"><use href="#L" x="708"/></g><g id="k20-14"><use href="#L" x="760"/></g><g id="k20-15"><use href="#L" x="812"/></g><g id="k20-16"><use href="#L" x="864"/></g><g id="k20-17"><use href="#L" x="916" class="g"/></g><g id="k20-18"><use href="#L" x="968"/></g><g id="k20-19"><use href="#L" x="1020"/></g><g id="k20-20"><use href="#L" x="1072"/></g></g>
<g transform="translate(0,1101.7)"><g id="k21-1"><use href="#R" x="84" class="g"/></g><g id="k21-2"><use href="#R" x="136"/></g><g id="k21-3"><use href="#R" x="188"/></g><g id="k21-4"><use href="#R" x="240" class="g"/></g><g id="k21-5"><use href="#R" x="292"/></g><g id="k21-6"><use href="#R" x="344"/></g><g id="k21-7"><use href="#R" x="396"/></g><g id="k21-8"><use href="#R" x="448" class="g"/></g><g id="k21-9"><use href="#R" x="500" class="g"/></g><g id="k21-10"><use href="#R" x="552" class="g"/></g><g id="k21-11"><use href="#R" x="604" class="g"/></g><g id="k21-12"><use href="#R" x="656" class="g"/></g><g id="k21-13"><use href="#R" x="708" class="g"/></g><g id="k21-14"><use href="#R" x="760"/></g><g id="k21-15"><use href="#R" x="812"/></g><g id="k21-16"><use href="#R" x="864"/></g><g id="k21-17"><use href="#R" x="916" class="g"/></g><g id="k21-18"><use href="#R" x="968"/></g><g id="k21-19"><use href="#R" x="1020"/></g><g id="k21-20"><use href="#R" x="1072" class="g"/></g></g>
<g transform="translate(0,1153.7)"><g id="k22-1"><use href="#L" x="84" class="g"/></g><g id="k22-2"><use href="#L" x="136"/></g><g id="k22-3"><use href="#L" x="188"/></g><g id="k22-4"><use href="#L" x="240" class="g"/></g><g id="k22-5"><use href="#L" x="292"/></g><g id="k22-6"><use href="#L" x="344"/></g><g id="k22-7"><use href="#L" x="396" class="g"/></g><g id="k22-8"><use href="#L" x="448" class="g"/></g><g id="k22-9"><use href="#L" x="500" class="g"/></g><g id="k22-10"><use href="#L" x="552" class="g"/></g><g id="k22-11"><use href="#L" x="604" class="g"/></g><g id="k22-12"><use href="#L" x="656" class="g"/></g><g id="k22-13"><use href="#L" x="708" class="g"/></g><g id="k22-14"><use href="#L" x="760" class="g"/></g><g id="k22-15"><use href="#L" x="812"/></g><g id="k22-16"><use href="#L" x="864"/></g><g id="k22-17"><use href="#L" x="916" class="g"/></g><g id="k22-18"><use href="#L" x="968"/></g><g id="k22-19"><use href="#L" x="1020"/></g><g id="k22-20"><use href="#L" x="1072" class="g"/></g></g>
<g transform="translate(0,1205.7)"><g id="k23-1"><use href="#R" x="84"/></g><g id="k23-2"><use href="#R" x="136"/></g><g id="k23-3"><use href="#R" x="188"/></g><g id="k23-4"><use href="#R" x="240" class="g"/></g><g id="k23-5"><use href="#R" x="292"/></g><g id="k23-6"><use href="#R" x="344" class="g"/></g><g id="k23-7"><use href="#R" x="396"/></g><g id="k23-8"><use href="#R" x="448" class="g"/></g><g id="k23-9"><use href="#R" x="500" class="g"/></g><g id="k23-10"><use href="#R" x="552"/></g><g id="k23-11"><use href="#R" x="604"/></g><g id="k23-12"><use href="#R" x="656" class="g"/></g><g id="k23-13"><use href="#R" x="708" class="g"/></g><g id="k23-14"><use href="#R" x="760"/></g><g id="k23-15"><use href="#R" x="812" class="g"/></g><g id="k23-16"><use href="#R" x="864"/></g><g id="k23-17"><use href="#R" x="916" class="g"/></g><g id="k23-18"><use href="#R" x="968"/></g><g id="k23-19"><use href="#R" x="1020"/></g><g id="k23-20"><use href="#R" x="1072"/></g></g>
<g transform="translate(0,1257.7)"><g id="k24-1"><use href="#L" x="84"/></g><g id="k24-2"><use href="#L" x="136"/></g><g id="k24-3"><use href="#L" x="188"/></g><g id="k24-4"><use href="#L" x="240" class="g"/></g><g id="k24-5"><use href="#L" x="292"/></g><g id="k24-6"><use href="#L" x="344"/></g><g id="k24-7"><use href="#L" x="396"/></g><g id="k24-8"><use href="#L" x="448" class="g"/></g><g id="k24-9"><use href="#L" x="500"/></g><g id="k24-10"><use href="#L" x="552"/></g><g id="k24-11"><use href="#L" x="604"/></g><g id="k24-12"><use href="#L" x="656"/></g><g id="k24-13"><use href="#L" x="708" class="g"/></g><g id="k24-14"><use href="#L" x="760"/></g><g id="k24-15"><use href="#L" x="812"/></g><g id="k24-16"><use href="#L" x="864"/></g><g id="k24-17"><use href="#L" x="916" class="g"/></g><g id="k24-18"><use href="#L" x="968"/></g><g id="k24-19"><use href="#L" x="1020"/></g><g id="k24-20"><use href="#L" x="1072"/></g></g>
<g transform="translate(0,1309.7)"><g id="k25-1"><use href="#R" x="84"/></g><g id="k25-2"><use href="#R" x="136"/></g><g id="k25-3"><use href="#R" x="188"/></g><g id="k25-4"><use href="#R" x="240"/></g><g id="k25-5"><use href="#R" x="292"/></g><g id="k25-6"><use href="#R" x="344"/></g><g id="k25-7"><use href="#R" x="396" class="g"/></g><g id="k25-8"><use href="#R" x="448"/></g><g id="k25-9"><use href="#R" x="500"/></g><g id="k25-10"><use href="#R" x="552"/></g><g id="k25-11"><use href="#R" x="604"/></g><g id="k25-12"><use href="#R" x="656"/></g><g id="k25-13"><use href="#R" x="708"/></g><g id="k25-14"><use href="#R" x="760" class="g"/></g><g id="k25-15"><use href="#R" x="812"/></g><g id="k25-16"><use href="#R" x="864"/></g><g id="k25-17"><use href="#R" x="916"/></g><g id="k25-18"><use href="#R" x="968"/></g><g id="k25-19"><use href="#R" x="1020"/></g><g id="k25-20"><use href="#R" x="1072"/></g></g>
<g transform="translate(0,1361.7)"><g id="k26-1"><use href="#L" x="84" class="g"/></g><g id="k26-2"><use href="#L" x="136"/></g><g id="k26-3"><use href="#L" x="188"/></g><g id="k26-4"><use href="#L" x="240"/></g><g id="k26-5"><use href="#L" x="292"/></g><g id="k26-6"><use href="#L" x="344" class="g"/></g><g id="k26-7"><use href="#L" x="396"/></g><g id="k26-8"><use href="#L" x="448"/></g><g id="k26-9"><use href="#L" x="500"/></g><g id="k26-10"><use href="#L" x="552" class="g"/></g><g id="k26-11"><use href="#L" x="604" class="g"/></g><g id="k26-12"><use href="#L" x="656"/></g><g id="k26-13"><use href="#L" x="708"/></g><g id="k26-14"><use href="#L" x="760"/></g><g id="k26-15"><use href="#L" x="812" class="g"/></g><g id="k26-16"><use href="#L" x="864"/></g><g id="k26-17"><use href="#L" x="916"/></g><g id="k26-18"><use href="#L" x="968"/></g><g id="k26-19"><use href="#L" x="1020"/></g><g id="k26-20"><use href="#L" x="1072" class="g"/></g></g>
<g transform="translate(0,1413.7)"><g id="k27-1"><use href="#R" x="84" class="g"/></g><g id="k27-2"><use href="#R" x="136"/></g><g id="k27-3"><use href="#R" x="188"/></g><g id="k27-4"><use href="#R" x="240"/></g><g id="k27-5"><use href="#R" x="292"/></g><g id="k27-6"><use href="#R" x="344" class="g"/></g><g id="k27-7"><use href="#R" x="396"/></g><g id="k27-8"><use href="#R" x="448"/></g><g id="k27-9"><use href="#R" x="500" class="g"/></g><g id="k27-10"><use href="#R" x="552" class="g"/></g><g id="k27-11"><use href="#R" x="604" class="g"/></g><g id="k27-12"><use href="#R" x="656" class="g"/></g><g id="k27-13"><use href="#R" x="708"/></g><g id="k27-14"><use href="#R" x="760"/></g><g id="k27-15"><use href="#R" x="812" class="g"/></g><g id="k27-16"><use href="#R" x="864"/></g><g id="k27-17"><use href="#R" x="916"/></g><g id="k27-18"><use href="#R" x="968"/></g><g id="k27-19"><use href="#R" x="1020"/></g><g id="k27-20"><use href="#R" x="1072" class="g"/></g></g>
<g transform="translate(0,1465.7)"><g id="k28-1"><use href="#L" x="84"/></g><g id="k28-2"><use href="#L" x="136"/></g><g id="k28-3"><use href="#L" x="188"/></g><g id="k28-4"><use href="#L" x="240" class="g"/></g><g id="k28-5"><use href="#L" x="292"/></g><g id="k28-6"><use href="#L" x="344"/></g><g id="k28-7"><use href="#L" x="396"/></g><g id="k28-8"><use href="#L" x="448"/></g><g id="k28-9"><use href="#L" x="500" class="g"/></g><g id="k28-10"><use href="#L" x="552" class="g"/></g><g id="k28-11"><use href="#L" x="604" class="g"/></g><g id="k28-12"><use href="#L" x="656" class="g"/></g><g id="k28-13"><use href="#L" x="708"/></g><g id="k28-14"><use href="#L" x="760"/></g><g id="k28-15"><use href="#L" x="812"/></g><g id="k28-16"><use href="#L" x="864"/></g><g id="k28-17"><use href="#L" x="916" class="g"/></g><g id="k28-18"><use href="#L" x="968"/></g><g id="k28-19"><use href="#L" x="1020"/></g><g id="k28-20"><use href="#L" x="1072"/></g></g>
<g transform="translate(0,1517.7)"><g id="k29-1"><use href="#R" x="84" class="g"/></g><g id="k29-2"><use href="#R" x="136"/></g><g id="k29-3"><use href="#R" x="188"/></g><g id="k29-4"><use href="#R" x="240" class="g"/></g><g id="k29-5"><use href="#R" x="292"/></g><g id="k29-6"><use href="#R" x="344"/></g><g id="k29-7"><use href="#R" x="396"/></g><g id="k29-8"><use href="#R" x="448" class="g"/></g><g id="k29-9"><use href="#R" x="500" class="g"/></g><g id="k29-10"><use href="#R" x="552" class="g"/></g><g id="k29-11"><use href="#R" x="604" class="g"/></g><g id="k29-12"><use href="#R" x="656" class="g"/></g><g id="k29-13"><use href="#R" x="708" class="g"/></g><g id="k29-14"><use href="#R" x="760"/></g><g id="k29-15"><use href="#R" x="812"/></g><g id="k29-16"><use href="#R" x="864"/></g><g id="k29-17"><use href="#R" x="916" class="g"/></g><g id="k29-18"><use href="#R" x="968"/></g><g id="k29-19"><use href="#R" x="1020"/></g><g id="k29-20"><use href="#R" x="1072" class="g"/></g></g>
<g transform="translate(0,1569.7)"><g id="k30-1"><use href="#L" x="84" class="g"/></g><g id="k30-2"><use href="#L" x="136"/></g><g id="k30-3"><use href="#L" x="188"/></g><g id="k30-4"><use href="#L" x="240" class="g"/></g><g id="k30-5"><use href="#L" x="292"/></g><g id="k30-6"><use href="#L" x="344"/></g><g id="k30-7"><use href="#L" x="396" class="g"/></g><g id="k30-8"><use href="#L" x="448" class="g"/></g><g id="k30-9"><use href="#L" x="500" class="g"/></g><g id="k30-10"><use href="#L" x="552" class="g"/></g><g id="k30-11"><use href="#L" x="604" class="g"/></g><g id="k30-12"><use href="#L" x="656" class="g"/></g><g id="k30-13"><use href="#L" x="708" class="g"/></g><g id="k30-14"><use href="#L" x="760" class="g"/></g><g id="k30-15"><use href="#L" x="812"/></g><g id="k30-16"><use href="#L" x="864"/></g><g id="k30-17"><use href="#L" x="916" class="g"/></g><g id="k30-18"><use href="#L" x="968"/></g><g id="k30-19"><use href="#L" x="1020"/></g><g id="k30-20"><use href="#L" x="1072" class="g"/></g></g>
<g transform="translate(0,1621.7)"><g id="k31-1"><use href="#R" x="84"/></g><g id="k31-2"><use href="#R" x="136"/></g><g id="k31-3"><use href="#R" x="188"/></g><g id="k31-4"><use href="#R" x="240" class="g"/></g><g id="k31-5"><use href="#R" x="292"/></g><g id="k31-6"><use href="#R" x="344" class="g"/></g><g id="k31-7"><use href="#R" x="396"/></g><g id="k31-8"><use href="#R" x="448" class="g"/></g><g id="k31-9"><use href="#R" x="500" class="g"/></g><g id="k31-10"><use href="#R" x="552"/></g><g id="k31-11"><use href="#R" x="604"/></g><g id="k31-12"><use href="#R" x="656" class="g"/></g><g id="k31-13"><use href="#R" x="708" class="g"/></g><g id="k31-14"><use href="#R" x="760"/></g><g id="k31-15"><use href="#R" x="812" class="g"/></g><g id="k31-16"><use href="#R" x="864"/></g><g id="k31-17"><use href="#R" x="916" class="g"/></g><g id="k31-18"><use href="#R" x="968"/></g><g id="k31-19"><use href="#R" x="1020"/></g><g id="k31-20"><use href="#R" x="1072"/></g></g>
<g transform="translate(0,1673.7)"><g id="k32-1"><use href="#L" x="84"/></g><g id="k32-2"><use href="#L" x="136"/></g><g id="k32-3"><use href="#L" x="188"/></g><g id="k32-4"><use href="#L" x="240" class="g"/></g><g id="k32-5"><use href="#L" x="292"/></g><g id="k32-6"><use href="#L" x="344"/></g><g id="k32-7"><use href="#L" x="396"/></g><g id="k32-8"><use href="#L" x="448" class="g"/></g><g id="k32-9"><use href="#L" x="500"/></g><g id="k32-10"><use href="#L" x="552"/></g><g id="k32-11"><use href="#L" x="604"/></g><g id="k32-12"><use href="#L" x="656"/></g><g id="k32-13"><use href="#L" x="708" class="g"/></g><g id="k32-14"><use href="#L" x="760"/></g><g id="k32-15"><use href="#L" x="812"/></g><g id="k32-16"><use href="#L" x="864"/></g><g id="k32-17"><use href="#L" x="916" class="g"/></g><g id="k32-18"><use href="#L" x="968"/></g><g id="k32-19"><use href="#L" x="1020"/></g><g id="k32-20"><use href="#L" x="1072"/></g></g>
<g transform="translate(0,1725.7)"><g id="k33-1"><use href="#R" x="84"/></g><g id="k33-2"><use href="#R" x="136"/></g><g id="k33-3"><use href="#R" x="188"/></g><g id="k33-4"><use href="#R" x="240"/></g><g id="k33-5"><use href="#R" x="292"/></g><g id="k33-6"><use href="#R" x="344"/></g><g id="k33-7"><use href="#R" x="396" class="g"/></g><g id="k33-8"><use href="#R" x="448"/></g><g id="k33-9"><use href="#R" x="500"/></g><g id="k33-10"><use href="#R" x="552"/></g><g id="k33-11"><use href="#R" x="604"/></g><g id="k33-12"><use href="#R" x="656"/></g><g id="k33-13"><use href="#R" x="708"/></g><g id="k33-14"><use href="#R" x="760" class="g"/></g><g id="k33-15"><use href="#R" x="812"/></g><g id="k33-16"><use href="#R" x="864"/></g><g id="k33-17"><use href="#R" x="916"/></g><g id="k33-18"><use href="#R" x="968"/></g><g id="k33-19"><use href="#R" x="1020"/></g><g id="k33-20"><use href="#R" x="1072"/></g></g>
<g transform="translate(0,1777.7)"><g id="k34-1"><use href="#L" x="84" class="g"/></g><g id="k34-2"><use href="#L" x="136"/></g><g id="k34-3"><use href="#L" x="188"/></g><g id="k34-4"><use href="#L" x="240"/></g><g id="k34-5"><use href="#L" x="292"/></g><g id="k34-6"><use href="#L" x="344" class="g"/></g><g id="k34-7"><use href="#L" x="396"/></g><g id="k34-8"><use href="#L" x="448"/></g><g id="k34-9"><use href="#L" x="500"/></g><g id="k34-10"><use href="#L" x="552" class="g"/></g><g id="k34-11"><use href="#L" x="604" class="g"/></g><g id="k34-12"><use href="#L" x="656"/></g><g id="k34-13"><use href="#L" x="708"/></g><g id="k34-14"><use href="#L" x="760"/></g><g id="k34-15"><use href="#L" x="812" class="g"/></g><g id="k34-16"><use href="#L" x="864"/></g><g id="k34-17"><use href="#L" x="916"/></g><g id="k34-18"><use href="#L" x="968"/></g><g id="k34-19"><use href="#L" x="1020"/></g><g id="k34-20"><use href="#L" x="1072" class="g"/></g></g>
<g transform="translate(0,1829.7)"><g id="k35-1"><use href="#R" x="84" class="g"/></g><g id="k35-2"><use href="#R" x="136"/></g><g id="k35-3"><use href="#R" x="188"/></g><g id="k35-4"><use href="#R" x="240"/></g><g id="k35-5"><use href="#R" x="292"/></g><g id="k35-6"><use href="#R" x="344" class="g"/></g><g id="k35-7"><use href="#R" x="396"/></g><g id="k35-8"><use href="#R" x="448"/></g><g id="k35-9"><use href="#R" x="500" class="g"/></g><g id="k35-10"><use href="#R" x="552" class="g"/></g><g id="k35-11"><use href="#R" x="604" class="g"/></g><g id="k35-12"><use href="#R" x="656" class="g"/></g><g id="k35-13"><use href="#R" x="708"/></g><g id="k35-14"><use href="#R" x="760"/></g><g id="k35-15"><use href="#R" x="812" class="g"/></g><g id="k35-16"><use href="#R" x="864"/></g><g id="k35-17"><use href="#R" x="916"/></g><g id="k35-18"><use href="#R" x="968"/></g><g id="k35-19"><use href="#R" x="1020"/></g><g id="k35-20"><use href="#R" x="1072" class="g"/></g></g>
<g transform="translate(0,1881.7)"><g id="k36-1"><use href="#L" x="84"/></g><g id="k36-2"><use href="#L" x="136"/></g><g id="k36-3"><use href="#L" x="188"/></g><g id="k36-4"><use href="#L" x="240" class="g"/></g><g id="k36-5"><use href="#L" x="292"/></g><g id="k36-6"><use href="#L" x="344"/></g><g id="k36-7"><use href="#L" x="396"/></g><g id="k36-8"><use href="#L" x="448"/></g><g id="k36-9"><use href="#L" x="500" class="g"/></g><g id="k36-10"><use href="#L" x="552" class="g"/></g><g id="k36-11"><use href="#L" x="604" class="g"/></g><g id="k36-12"><use href="#L" x="656" class="g"/></g><g id="k36-13"><use href="#L" x="708"/></g><g id="k36-14"><use href="#L" x="760"/></g><g id="k36-15"><use href="#L" x="812"/></g><g id="k36-16"><use href="#L" x="864"/></g><g id="k36-17"><use href="#L" x="916" class="g"/></g><g id="k36-18"><use href="#L" x="968"/></g><g id="k36-19"><use href="#L" x="1020"/></g><g id="k36-20"><use href="#L" x="1072"/></g></g>
<g transform="translate(0,1933.7)"><g id="k37-1"><use href="#R" x="84" class="g"/></g><g id="k37-2"><use href="#R" x="136"/></g><g id="k37-3"><use href="#R" x="188"/></g><g id="k37-4"><use href="#R" x="240" class="g"/></g><g id="k37-5"><use href="#R" x="292"/></g><g id="k37-6"><use href="#R" x="344"/></g><g id="k37-7"><use href="#R" x="396"/></g><g id="k37-8"><use href="#R" x="448" class="g"/></g><g id="k37-9"><use href="#R" x="500" class="g"/></g><g id="k37-10"><use href="#R" x="552" class="g"/></g><g id="k37-11"><use href="#R" x="604" class="g"/></g><g id="k37-12"><use href="#R" x="656" class="g"/></g><g id="k37-13"><use href="#R" x="708" class="g"/></g><g id="k37-14"><use href="#R" x="760"/></g><g id="k37-15"><use href="#R" x="812"/></g><g id="k37-16"><use href="#R" x="864"/></g><g id="k37-17"><use href="#R" x="916" class="g"/></g><g id="k37-18"><use href="#R" x="968"/></g><g id="k37-19"><use href="#R" x="1020"/></g><g id="k37-20"><use href="#R" x="1072" class="g"/></g></g>
<g transform="translate(0,1985.7)"><g id="k38-1"><use href="#L" x="84" class="g"/></g><g id="k38-2"><use href="#L" x="136"/></g><g id="k38-3"><use href="#L" x="188"/></g><g id="k38-4"><use href="#L" x="240" class="g"/></g><g id="k38-5"><use href="#L" x="292"/></g><g id="k38-6"><use href="#L" x="344"/></g><g id="k38-7"><use href="#L" x="396" class="g"/></g><g id="k38-8"><use href="#L" x="448" class="g"/></g><g id="k38-9"><use href="#L" x="500" class="g"/></g><g id="k38-10"><use href="#L" x="552" class="g"/></g><g id="k38-11"><use href="#L" x="604" class="g"/></g><g id="k38-12"><use href="#L" x="656" class="g"/></g><g id="k38-13"><use href="#L" x="708" class="g"/></g><g id="k38-14"><use href="#L" x="760" class="g"/></g><g id="k38-15"><use href="#L" x="812"/></g><g id="k38-16"><use href="#L" x="864"/></g><g id="k38-17"><use href="#L" x="916" class="g"/></g><g id="k38-18"><use href="#L" x="968"/></g><g id="k38-19"><use href="#L" x="1020"/></g><g id="k38-20"><use href="#L" x="1072" class="g"/></g></g>
<g transform="translate(0,2037.7)"><g id="k39-1"><use href="#R" x="84"/></g><g id="k39-2"><use href="#R" x="136"/></g><g id="k39-3"><use href="#R" x="188"/></g><g id="k39-4"><use href="#R" x="240" class="g"/></g><g id="k39-5"><use href="#R" x="292"/></g><g id="k39-6"><use href="#R" x="344" class="g"/></g><g id="k39-7"><use href="#R" x="396"/></g><g id="k39-8"><use href="#R" x="448" class="g"/></g><g id="k39-9"><use href="#R" x="500" class="g"/></g><g id="k39-10"><use href="#R" x="552"/></g><g id="k39-11"><use href="#R" x="604"/></g><g id="k39-12"><use href="#R" x="656" class="g"/></g><g id="k39-13"><use href="#R" x="708" class="g"/></g><g id="k39-14"><use href="#R" x="760"/></g><g id="k39-15"><use href="#R" x="812" class="g"/></g><g id="k39-16"><use href="#R" x="864"/></g><g id="k39-17"><use href="#R" x="916" class="g"/></g><g id="k39-18"><use href="#R" x="968"/></g><g id="k39-19"><use href="#R" x="1020"/></g><g id="k39-20"><use href="#R" x="1072"/></g></g>
<g transform="translate(0,2089.7)"><g id="k40-1"><use href="#L" x="84"/></g><g id="k40-2"><use href="#L" x="136"/></g><g id="k40-3"><use href="#L" x="188"/></g><g id="k40-4"><use href="#L" x="240" class="g"/></g><g id="k40-5"><use href="#L" x="292"/></g><g id="k40-6"><use href="#L" x="344"/></g><g id="k40-7"><use href="#L" x="396"/></g><g id="k40-8"><use href="#L" x="448" class="g"/></g><g id="k40-9"><use href="#L" x="500"/></g><g id="k40-10"><use href="#L" x="552"/></g><g id="k40-11"><use href="#L" x="604"/></g><g id="k40-12"><use href="#L" x="656"/></g><g id="k40-13"><use href="#L" x="708" class="g"/></g><g id="k40-14"><use href="#L" x="760"/></g><g id="k40-15"><use href="#L" x="812"/></g><g id="k40-16"><use href="#L" x="864"/></g><g id="k40-17"><use href="#L" x="916" class="g"/></g><g id="k40-18"><use href="#L" x="968"/></g><g id="k40-19"><use href="#L" x="1020"/></g><g id="k40-20"><use href="#L" x="1072"/></g></g>
<g transform="translate(0,2141.7)"><g id="k41-1"><use href="#R" x="84"/></g><g id="k41-2"><use href="#R" x="136"/></g><g id="k41-3"><use href="#R" x="188"/></g><g id="k41-4"><use href="#R" x="240"/></g><g id="k41-5"><use href="#R" x="292"/></g><g id="k41-6"><use href="#R" x="344"/></g><g id="k41-7"><use href="#R" x="396" class="g"/></g><g id="k41-8"><use href="#R" x="448"/></g><g id="k41-9"><use href="#R" x="500"/></g><g id="k41-10"><use href="#R" x="552"/></g><g id="k41-11"><use href="#R" x="604"/></g><g id="k41-12"><use href="#R" x="656"/></g><g id="k41-13"><use href="#R" x="708"/></g><g id="k41-14"><use href="#R" x="760" class="g"/></g><g id="k41-15"><use href="#R" x="812"/></g><g id="k41-16"><use href="#R" x="864"/></g><g id="k41-17"><use href="#R" x="916"/></g><g id="k41-18"><use href="#R" x="968"/></g><g id="k41-19"><use href="#R" x="1020"/></g><g id="k41-20"><use href="#R" x="1072"/></g></g>
<g transform="translate(0,2193.7)"><g id="k42-1"><use href="#L" x="84" class="g"/></g><g id="k42-2"><use href="#L" x="136"/></g><g id="k42-3"><use href="#L" x="188"/></g><g id="k42-4"><use href="#L" x="240"/></g><g id="k42-5"><use href="#L" x="292"/></g><g id="k42-6"><use href="#L" x="344" class="g"/></g><g id="k42-7"><use href="#L" x="396"/></g><g id="k42-8"><use href="#L" x="448"/></g><g id="k42-9"><use href="#L" x="500"/></g><g id="k42-10"><use href="#L" x="552" class="g"/></g><g id="k42-11"><use href="#L" x="604" class="g"/></g><g id="k42-12"><use href="#L" x="656"/></g><g id="k42-13"><use href="#L" x="708"/></g><g id="k42-14"><use href="#L" x="760"/></g><g id="k42-15"><use href="#L" x="812" class="g"/></g><g id="k42-16"><use href="#L" x="864"/></g><g id="k42-17"><use href="#L" x="916"/></g><g id="k42-18"><use href="#L" x="968"/></g><g id="k42-19"><use href="#L" x="1020"/></g><g id="k42-20"><use href="#L" x="1072" class="g"/></g></g>
<g transform="translate(0,2245.7)"><g id="k43-1"><use href="#R" x="84" class="g"/></g><g id="k43-2"><use href="#R" x="136"/></g><g id="k43-3"><use href="#R" x="188"/></g><g id="k43-4"><use href="#R" x="240"/></g><g id="k43-5"><use href="#R" x="292"/></g><g id="k43-6"><use href="#R" x="344" class="g"/></g><g id="k43-7"><use href="#R" x="396"/></g><g id="k43-8"><use href="#R" x="448"/></g><g id="k43-9"><use href="#R" x="500" class="g"/></g><g id="k43-10"><use href="#R" x="552" class="g"/></g><g id="k43-11"><use href="#R" x="604" class="g"/></g><g id="k43-12"><use href="#R" x="656" class="g"/></g><g id="k43-13"><use href="#R" x="708"/></g><g id="k43-14"><use href="#R" x="760"/></g><g id="k43-15"><use href="#R" x="812" class="g"/></g><g id="k43-16"><use href="#R" x="864"/></g><g id="k43-17"><use href="#R" x="916"/></g><g id="k43-18"><use href="#R" x="968"/></g><g id="k43-19"><use href="#R" x="1020"/></g><g id="k43-20"><use href="#R" x="1072" class="g"/></g></g>
<g transform="translate(0,2297.7)"><g id="k44-1"><use href="#L" x="84"/></g><g id="k44-2"><use href="#L" x="136"/></g><g id="k44-3"><use href="#L" x="188"/></g><g id="k44-4"><use href="#L" x="240" class="g"/></g><g id="k44-5"><use href="#L" x="292"/></g><g id="k44-6"><use href="#L" x="344"/></g><g id="k44-7"><use href="#L" x="396"/></g><g id="k44-8"><use href="#L" x="448"/></g><g id="k44-9"><use href="#L" x="500" class="g"/></g><g id="k44-10"><use href="#L" x="552" class="g"/></g><g id="k44-11"><use href="#L" x="604" class="g"/></g><g id="k44-12"><use href="#L" x="656" class="g"/></g><g id="k44-13"><use href="#L" x="708"/></g><g id="k44-14"><use href="#L" x="760"/></g><g id="k44-15"><use href="#L" x="812"/></g><g id="k44-16"><use href="#L" x="864"/></g><g id="k44-17"><use href="#L" x="916" class="g"/></g><g id="k44-18"><use href="#L" x="968"/></g><g id="k44-19"><use href="#L" x="1020"/></g><g id="k44-20"><use href="#L" x="1072" class="g"/></g></g>
<g transform="translate(0,2349.7)"><g id="k45-1"><use href="#R" x="84" class="g"/></g><g id="k45-2"><use href="#R" x="136"/></g><g id="k45-3"><use href="#R" x="188"/></g><g id="k45-4"><use href="#R" x="240" class="g"/></g><g id="k45-5"><use href="#R" x="292"/></g><g id="k45-6"><use href="#R" x="344"/></g><g id="k45-7"><use href="#R" x="396"/></g><g id="k45-8"><use href="#R" x="448" class="g"/></g><g id="k45-9"><use href="#R" x="500" class="g"/></g><g id="k45-10"><use href="#R" x="552" class="g"/></g><g id="k45-11"><use href="#R" x="604" class="g"/></g><g id="k45-12"><use href="#R" x="656" class="g"/></g><g id="k45-13"><use href="#R" x="708" class="g"/></g><g id="k45-14"><use href="#R" x="760"/></g><g id="k45-15"><use href="#R" x="812"/></g><g id="k45-16"><use href="#R" x="864"/></g><g id="k45-17"><use href="#R" x="916" class="g"/></g><g id="k45-18"><use href="#R" x="968"/></g><g id="k45-19"><use href="#R" x="1020"/></g><g id="k45-20"><use href="#R" x="1072" class="g"/></g></g>
<g transform="translate(0,2401.7)"><g id="k46-1"><use href="#L" x="84" class="g"/></g><g id="k46-2"><use href="#L" x="136"/></g><g id="k46-3"><use href="#L" x="188"/></g><g id="k46-4"><use href="#L" x="240" class="g"/></g><g id="k46-5"><use href="#L" x="292"/></g><g id="k46-6"><use href="#L" x="344"/></g><g id="k46-7"><use href="#L" x="396" class="g"/></g><g id="k46-8"><use href="#L" x="448" class="g"/></g><g id="k46-9"><use href="#L" x="500" class="g"/></g><g id="k46-10"><use href="#L" x="552" class="g"/></g><g id="k46-11"><use href="#L" x="604" class="g"/></g><g id="k46-12"><use href="#L" x="656" class="g"/></g><g id="k46-13"><use href="#L" x="708" class="g"/></g><g id="k46-14"><use href="#L" x="760" class="g"/></g><g id="k46-15"><use href="#L" x="812"/></g><g id="k46-16"><use href="#L" x="864"/></g><g id="k46-17"><use href="#L" x="916" class="g"/></g><g id="k46-18"><use href="#L" x="968"/></g><g id="k46-19"><use href="#L" x="1020"/></g><g id="k46-20"><use href="#L" x="1072" class="g"/></g></g>
<g transform="translate(0,2453.7)"><g id="k47-1"><use href="#R" x="84"/></g><g id="k47-2"><use href="#R" x="136"/></g><g id="k47-3"><use href="#R" x="188"/></g><g id="k47-4"><use href="#R" x="240" class="g"/></g><g id="k47-5"><use href="#R" x="292"/></g><g id="k47-6"><use href="#R" x="344" class="g"/></g><g id="k47-7"><use href="#R" x="396"/></g><g id="k47-8"><use href="#R" x="448" class="g"/></g><g id="k47-9"><use href="#R" x="500" class="g"/></g><g id="k47-10"><use href="#R" x="552"/></g><g id="k47-11"><use href="#R" x="604"/></g><g id="k47-12"><use href="#R" x="656" class="g"/></g><g id="k47-13"><use href="#R" x="708" class="g"/></g><g id="k47-14"><use href="#R" x="760"/></g><g id="k47-15"><use href="#R" x="812" class="g"/></g><g id="k47-16"><use href="#R" x="864"/></g><g id="k47-17"><use href="#R" x="916" class="g"/></g><g id="k47-18"><use href="#R" x="968"/></g><g id="k47-19"><use href="#R" x="1020"/></g><g id="k47-20"><use href="#R" x="1072"/></g></g>
<g transform="translate(0,2505.7)"><g id="k48-1"><use href="#L" x="84"/></g><g id="k48-2"><use href="#L" x="136"/></g><g id="k48-3"><use href="#L" x="188"/></g><g id="k48-4"><use href="#L" x="240" class="g"/></g><g id="k48-5"><use href="#L" x="292"/></g><g id="k48-6"><use href="#L" x="344"/></g><g id="k48-7"><use href="#L" x="396"/></g><g id="k48-8"><use href="#L" x="448" class="g"/></g><g id="k48-9"><use href="#L" x="500"/></g><g id="k48-10"><use href="#L" x="552"/></g><g id="k48-11"><use href="#L" x="604"/></g><g id="k48-12"><use href="#L" x="656"/></g><g id="k48-13"><use href="#L" x="708" class="g"/></g><g id="k48-14"><use href="#L" x="760"/></g><g id="k48-15"><use href="#L" x="812"/></g><g id="k48-16"><use href="#L" x="864"/></g><g id="k48-17"><use href="#L" x="916" class="g"/></g><g id="k48-18"><use href="#L" x="968"/></g><g id="k48-19"><use href="#L" x="1020"/></g><g id="k48-20"><use href="#L" x="1072"/></g></g>
<g transform="translate(0,2557.7)"><g id="k49-1"><use href="#R" x="84"/></g><g id="k49-2"><use href="#R" x="136"/></g><g id="k49-3"><use href="#R" x="188"/></g><g id="k49-4"><use href="#R" x="240"/></g><g id="k49-5"><use href="#R" x="292"/></g><g id="k49-6"><use href="#R" x="344"/></g><g id="k49-7"><use href="#R" x="396" class="g"/></g><g id="k49-8"><use href="#R" x="448"/></g><g id="k49-9"><use href="#R" x="500"/></g><g id="k49-10"><use href="#R" x="552"/></g><g id="k49-11"><use href="#R" x="604"/></g><g id="k49-12"><use href="#R" x="656"/></g><g id="k49-13"><use href="#R" x="708"/></g><g id="k49-14"><use href="#R" x="760" class="g"/></g><g id="k49-15"><use href="#R" x="812"/></g><g id="k49-16"><use href="#R" x="864"/></g><g id="k49-17"><use href="#R" x="916" class="g"/></g><g id="k49-18"><use href="#R" x="968"/></g><g id="k49-19"><use href="#R" x="1020"/></g><g id="k49-20"><use href="#R" x="1072"/></g></g>
<g transform="translate(0,2609.7)"><g id="k50-1"><use href="#L" x="84" class="g"/></g><g id="k50-2"><use href="#L" x="136"/></g><g id="k50-3"><use href="#L" x="188"/></g><g id="k50-4"><use href="#L" x="240"/></g><g id="k50-5"><use href="#L" x="292"/></g><g id="k50-6"><use href="#L" x="344" class="g"/></g><g id="k50-7"><use href="#L" x="396"/></g><g id="k50-8"><use href="#L" x="448"/></g><g id="k50-9"><use href="#L" x="500"/></g><g id="k50-10"><use href="#L" x="552" class="g"/></g><g id="k50-11"><use href="#L" x="604" class="g"/></g><g id="k50-12"><use href="#L" x="656"/></g><g id="k50-13"><use href="#L" x="708"/></g><g id="k50-14"><use href="#L" x="760"/></g><g id="k50-15"><use href="#L" x="812" class="g"/></g><g id="k50-16"><use href="#L" x="864"/></g><g id="k50-17"><use href="#L" x="916"/></g><g id="k50-18"><use href="#L" x="968"/></g><g id="k50-19"><use href="#L" x="1020"/></g><g id="k50-20"><use href="#L" x="1072" class="g"/></g></g>
<g transform="translate(0,2661.7)"><g id="k51-1"><use href="#R" x="84" class="g"/></g><g id="k51-2"><use href="#R" x="136"/></g><g id="k51-3"><use href="#R" x="188"/></g><g id="k51-4"><use href="#R" x="240"/></g><g id="k51-5"><use href="#R" x="292"/></g><g id="k51-6"><use href="#R" x="344" class="g"/></g><g id="k51-7"><use href="#R" x="396"/></g><g id="k51-8"><use href="#R" x="448"/></g><g id="k51-9"><use href="#R" x="500" class="g"/></g><g id="k51-10"><use href="#R" x="552" class="g"/></g><g id="k51-11"><use href="#R" x="604" class="g"/></g><g id="k51-12"><use href="#R" x="656" class="g"/></g><g id="k51-13"><use href="#R" x="708"/></g><g id="k51-14"><use href="#R" x="760"/></g><g id="k51-15"><use href="#R" x="812" class="g"/></g><g id="k51-16"><use href="#R" x="864"/></g><g id="k51-17"><use href="#R" x="916"/></g><g id="k51-18"><use href="#R" x="968"/></g><g id="k51-19"><use href="#R" x="1020"/></g><g id="k51-20"><use href="#R" x="1072" class="g"/></g></g>
<g transform="translate(0,2713.7)"><g id="k52-1"><use href="#L" x="84"/></g><g id="k52-2"><use href="#L" x="136"/></g><g id="k52-3"><use href="#L" x="188"/></g><g id="k52-4"><use href="#L" x="240" class="g"/></g><g id="k52-5"><use href="#L" x="292"/></g><g id="k52-6"><use href="#L" x="344"/></g><g id="k52-7"><use href="#L" x="396"/></g><g id="k52-8"><use href="#L" x="448"/></g><g id="k52-9"><use href="#L" x="500" class="g"/></g><g id="k52-10"><use href="#L" x="552" class="g"/></g><g id="k52-11"><use href="#L" x="604" class="g"/></g><g id="k52-12"><use href="#L" x="656" class="g"/></g><g id="k52-13"><use href="#L" x="708"/></g><g id="k52-14"><use href="#L" x="760"/></g><g id="k52-15"><use href="#L" x="812"/></g><g id="k52-16"><use href="#L" x="864"/></g><g id="k52-17"><use href="#L" x="916" class="g"/></g><g id="k52-18"><use href="#L" x="968"/></g><g id="k52-19"><use href="#L" x="1020"/></g><g id="k52-20"><use href="#L" x="1072"/></g></g>
<g transform="translate(0,2765.7)"><g id="k53-1"><use href="#R" x="84" class="g"/></g><g id="k53-2"><use href="#R" x="136"/></g><g id="k53-3"><use href="#R" x="188"/></g><g id="k53-4"><use href="#R" x="240" class="g"/></g><g id="k53-5"><use href="#R" x="292"/></g><g id="k53-6"><use href="#R" x="344"/></g><g id="k53-7"><use href="#R" x="396"/></g><g id="k53-8"><use href="#R" x="448" class="g"/></g><g id="k53-9"><use href="#R" x="500" class="g"/></g><g id="k53-10"><use href="#R" x="552" class="g"/></g><g id="k53-11"><use href="#R" x="604" class="g"/></g><g id="k53-12"><use href="#R" x="656" class="g"/></g><g id="k53-13"><use href="#R" x="708" class="g"/></g><g id="k53-14"><use href="#R" x="760"/></g><g id="k53-15"><use href="#R" x="812"/></g><g id="k53-16"><use href="#R" x="864"/></g><g id="k53-17"><use href="#R" x="916" class="g"/></g><g id="k53-18"><use href="#R" x="968"/></g><g id="k53-19"><use href="#R" x="1020"/></g><g id="k53-20"><use href="#R" x="1072" class="g"/></g></g>
<g transform="translate(0,2817.7)"><g id="k54-1"><use href="#L" x="84" class="g"/></g><g id="k54-2"><use href="#L" x="136"/></g><g id="k54-3"><use href="#L" x="188"/></g><g id="k54-4"><use href="#L" x="240" class="g"/></g><g id="k54-5"><use href="#L" x="292"/></g><g id="k54-6"><use href="#L" x="344"/></g><g id="k54-7"><use href="#L" x="396" class="g"/></g><g id="k54-8"><use href="#L" x="448" class="g"/></g><g id="k54-9"><use href="#L" x="500" class="g"/></g><g id="k54-10"><use href="#L" x="552" class="g"/></g><g id="k54-11"><use href="#L" x="604" class="g"/></g><g id="k54-12"><use href="#L" x="656" class="g"/></g><g id="k54-13"><use href="#L" x="708" class="g"/></g><g id="k54-14"><use href="#L" x="760" class="g"/></g><g id="k54-15"><use href="#L" x="812"/></g><g id="k54-16"><use href="#L" x="864"/></g><g id="k54-17"><use href="#L" x="916" class="g"/></g><g id="k54-18"><use href="#L" x="968"/></g><g id="k54-19"><use href="#L" x="1020"/></g><g id="k54-20"><use href="#L" x="1072" class="g"/></g></g>
<g transform="translate(0,2869.7)"><g id="k55-1"><use href="#R" x="84"/></g><g id="k55-2"><use href="#R" x="136"/></g><g id="k55-3"><use href="#R" x="188"/></g><g id="k55-4"><use href="#R" x="240" class="g"/></g><g id="k55-5"><use href="#R" x="292"/></g><g id="k55-6"><use href="#R" x="344" class="g"/></g><g id="k55-7"><use href="#R" x="396"/></g><g id="k55-8"><use href="#R" x="448" class="g"/></g><g id="k55-9"><use href="#R" x="500" class="g"/></g><g id="k55-10"><use href="#R" x="552"/></g><g id="k55-11"><use href="#R" x="604"/></g><g id="k55-12"><use href="#R" x="656" class="g"/></g><g id="k55-13"><use href="#R" x="708" class="g"/></g><g id="k55-14"><use href="#R" x="760"/></g><g id="k55-15"><use href="#R" x="812" class="g"/></g><g id="k55-16"><use href="#R" x="864"/></g><g id="k55-17"><use href="#R" x="916" class="g"/></g><g id="k55-18"><use href="#R" x="968"/></g><g id="k55-19"><use href="#R" x="1020"/></g><g id="k55-20"><use href="#R" x="1072"/></g></g>
<g transform="translate(0,2921.7)"><g id="k56-1"><use href="#L" x="84"/></g><g id="k56-2"><use href="#L" x="136"/></g><g id="k56-3"><use href="#L" x="188"/></g><g id="k56-4"><use href="#L" x="240" class="g"/></g><g id="k56-5"><use href="#L" x="292"/></g><g id="k56-6"><use href="#L" x="344"/></g><g id="k56-7"><use href="#L" x="396"/></g><g id="k56-8"><use href="#L" x="448" class="g"/></g><g id="k56-9"><use href="#L" x="500"/></g><g id="k56-10"><use href="#L" x="552"/></g><g id="k56-11"><use href="#L" x="604"/></g><g id="k56-12"><use href="#L" x="656"/></g><g id="k56-13"><use href="#L" x="708" class="g"/></g><g id="k56-14"><use href="#L" x="760"/></g><g id="k56-15"><use href="#L" x="812"/></g><g id="k56-16"><use href="#L" x="864"/></g><g id="k56-17"><use href="#L" x="916" class="g"/></g><g id="k56-18"><use href="#L" x="968"/></g><g id="k56-19"><use href="#L" x="1020"/></g><g id="k56-20"><use href="#L" x="1072"/></g></g>
</g>
<text x="578" y="1497" font-family="Liberation Sans, Arial, sans-serif" font-weight="bold" font-size="15" text-anchor="middle" textLength="153" lengthAdjust="spacingAndGlyphs" fill="#333" stroke="#fff" stroke-width="3" paint-order="stroke">BRACELETBOOK.COM</text>
</svg>
